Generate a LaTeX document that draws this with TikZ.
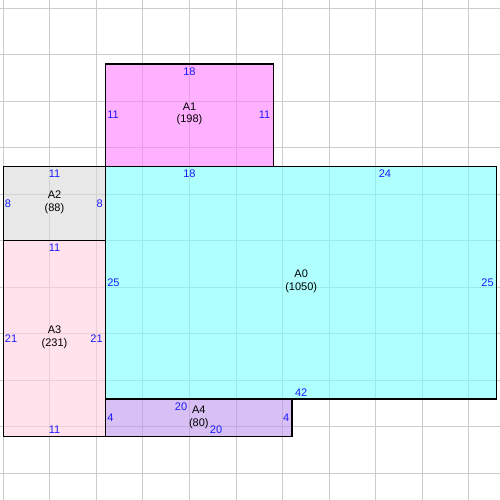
\documentclass[tikz,border=0pt]{standalone}
\usepackage{fontspec}
\setmainfont{Liberation Sans}
\definecolor{fillA0}{HTML}{7BFFFF}
\definecolor{fillA1}{HTML}{FF7BFF}
\definecolor{fillA2}{HTML}{D9D9D9}
\definecolor{fillA3}{HTML}{FFCFDF}
\definecolor{fillA4}{HTML}{BE96ED}
\definecolor{gridgray}{HTML}{CCCCCC}
\definecolor{sizeblue}{HTML}{1A1AFF}
\tikzstyle{room} = [draw=black, line width=1pt]
\tikzstyle{roomfill} = [fill opacity=0.6]
\tikzstyle{gridline} = [draw=gridgray, line width=0.75pt]
\tikzstyle{sizelabel} = [text=sizeblue, inner sep=0pt, font=\fontsize{8.4}{9.6}\selectfont]
\tikzstyle{roomname} = [align=center, inner sep=0pt, font=\fontsize{8.4}{9.6}\selectfont]

\begin{document}
\begin{tikzpicture}[x=0.25cm, y=-0.25cm]

    \useasboundingbox (-0.354,-0.86) rectangle (53.35,52.85);

    \foreach \g in {0,5,...,50} {
        \draw[gridline] (\g,-0.86) -- (\g,52.85);
        \draw[gridline] (-0.354,\g) -- (53.35,\g);
    }

    \fill[roomfill, fillA1] (11,6) rectangle (29,17);
    \fill[roomfill, fillA0] (11,17) rectangle (53,42);
    \fill[roomfill, fillA2] (0,17) rectangle (11,25);
    \fill[roomfill, fillA3] (0,25) rectangle (11,46);
    \fill[roomfill, fillA4] (11,42) rectangle (31,46);

    \draw[room] (11,6) rectangle (29,17);
    \draw[room] (11,17) rectangle (53,42);
    \draw[room] (0,17) rectangle (11,25);
    \draw[room] (0,25) rectangle (11,46);
    \draw[room] (11,42) rectangle (31,46);

    \node (a1top) [sizelabel] at (20,6.8) {18};
    \node (a1left) [sizelabel, anchor=west] at (11.15,11.5) {11};
    \node (a1right) [sizelabel, anchor=east] at (28.7,11.5) {11};
    \node (a1name) [roomname] at (20,11.35) {A1\\(198)};

    \node (a0topa) [sizelabel] at (20,17.8) {18};
    \node (a0topb) [sizelabel] at (41,17.8) {24};
    \node (a0left) [sizelabel, anchor=west] at (11.15,29.5) {25};
    \node (a0right) [sizelabel, anchor=east] at (52.7,29.5) {25};
    \node (a0bottom) [sizelabel] at (32,41.3) {42};
    \node (a0name) [roomname] at (32,29.35) {A0\\(1050)};

    \node (a2top) [sizelabel] at (5.5,17.8) {11};
    \node (a2left) [sizelabel, anchor=west] at (0.15,21) {8};
    \node (a2right) [sizelabel, anchor=east] at (10.7,21) {8};
    \node (a2name) [roomname] at (5.5,20.85) {A2\\(88)};

    \node (a3top) [sizelabel] at (5.5,25.8) {11};
    \node (a3left) [sizelabel, anchor=west] at (0.15,35.5) {21};
    \node (a3right) [sizelabel, anchor=east] at (10.7,35.5) {21};
    \node (a3bottom) [sizelabel] at (5.5,45.3) {11};
    \node (a3name) [roomname] at (5.5,35.35) {A3\\(231)};

    \node (a4top) [sizelabel] at (19.1,42.8) {20};
    \node (a4bottom) [sizelabel] at (22.85,45.3) {20};
    \node (a4left) [sizelabel, anchor=west] at (11.15,44) {4};
    \node (a4right) [sizelabel, anchor=east] at (30.75,44) {4};
    \node (a4name) [roomname] at (21,44) {A4\\(80)};

\end{tikzpicture}
\end{document}
